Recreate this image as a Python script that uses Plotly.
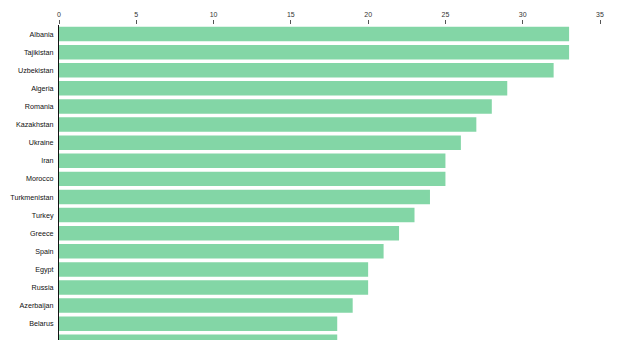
import plotly.graph_objects as go

# Countries ranked by value, largest first
countries = [
    "Albania", "Tajikistan", "Uzbekistan", "Algeria", "Romania", "Kazakhstan",
    "Ukraine", "Iran", "Morocco", "Turkmenistan", "Turkey", "Greece", "Spain",
    "Egypt", "Russia", "Azerbaijan", "Belarus", "Serbia",
]
values = [33, 33, 32, 29, 28, 27, 26, 25, 25, 24, 23, 22, 21, 20, 20, 19, 18, 18]

x_ticks = [0, 5, 10, 15, 20, 25, 30, 35]

fig = go.Figure(
    go.Bar(
        x=values,
        y=countries,
        orientation="h",
        marker=dict(color="#83D6A6", line=dict(width=0)),
        hoverinfo="x+y",
    )
)

fig.update_layout(
    width=620,
    height=340,
    margin=dict(l=59, r=20, t=25, b=0, pad=0),
    paper_bgcolor="white",
    plot_bgcolor="white",
    bargap=0.2,
    showlegend=False,
    font=dict(family="Liberation Sans, Arial, sans-serif", color="#222"),
)

fig.update_xaxes(
    side="top",
    range=[0, 35],
    tickvals=x_ticks,
    ticktext=[str(v) for v in x_ticks],
    ticks="outside",
    ticklen=4,
    tickwidth=1,
    tickcolor="#555",
    tickfont=dict(size=7, color="#333"),
    showgrid=False,
    zeroline=False,
    showline=False,
)

fig.update_yaxes(
    type="category",
    categoryorder="array",
    categoryarray=countries,
    range=[16.9, -0.5],
    showline=True,
    linecolor="#111",
    linewidth=1,
    ticks="",
    tickfont=dict(size=7.2, color="#111", family="Liberation Sans, Arial, sans-serif"),
    ticklabelstandoff=3,
    showgrid=False,
    zeroline=False,
)

fig.write_html("out.html")
